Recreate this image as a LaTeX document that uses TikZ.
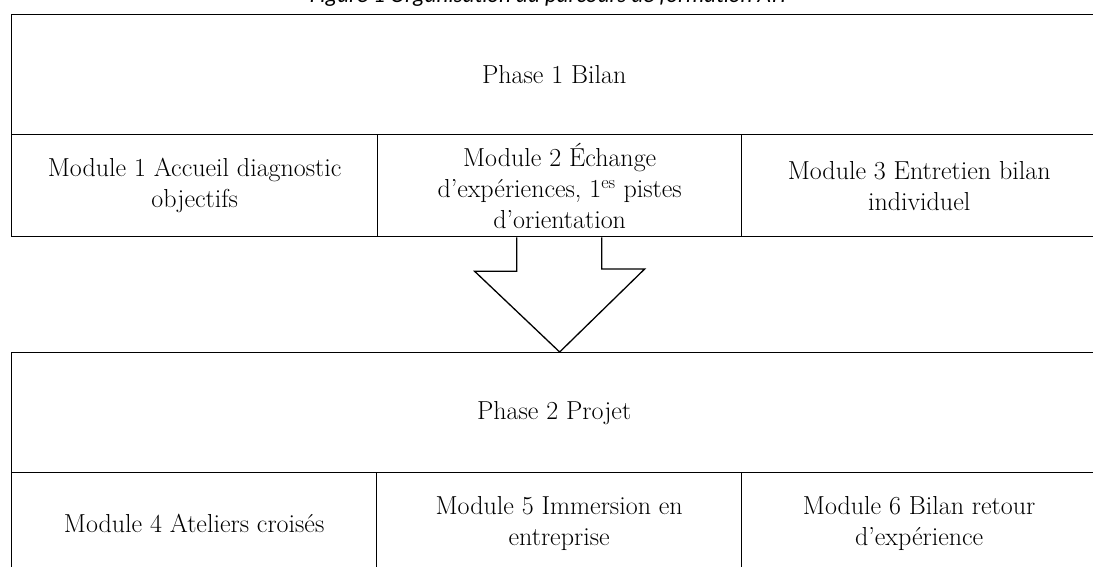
\documentclass[tikz,border=0pt]{standalone}
\usepackage{fontspec}
\setmainfont{Latin Modern Roman}[Ligatures=Common]
\newfontfamily\titlefont{Carlito}
\tikzset{
  cell/.style={draw, line width=1.3pt, rectangle, inner sep=0pt, align=center,
    font=\fontsize{26}{31}\selectfont},
  blockarrow/.style={draw, line width=1.3pt, line join=miter, fill=white},
}
\begin{document}
\begin{tikzpicture}[x=1pt,y=-1pt]
\clip (0,0) rectangle (1093,566);
\useasboundingbox (0,0) rectangle (1093,566);
% title (cropped at the top)
\node[anchor=base, inner sep=0pt, font=\titlefont\itshape\fontsize{23}{27}\selectfont] (title) at (548,2)
  {Figure 1 Organisation du parcours de formation ATI};
% phase 1
\node[cell, minimum width=1085pt, minimum height=120pt, anchor=north west] (p1) at (11,14) {Phase 1 Bilan};
\node[cell, minimum width=366pt, minimum height=102pt, anchor=north west] (m1) at (11,134)
  {Module 1 Accueil diagnostic\\objectifs};
\node[cell, minimum width=364pt, minimum height=102pt, anchor=north west] (m2) at (377,134)
  {Module 2 Échange\\d'expériences, 1\textsuperscript{es} pistes\\d'orientation};
\node[cell, minimum width=355pt, minimum height=102pt, anchor=north west] (m3) at (741,134)
  {Module 3 Entretien bilan\\individuel};
% phase 2
\node[cell, minimum width=1085pt, minimum height=120pt, anchor=north west] (p2) at (11,352) {Phase 2 Projet};
\node[cell, minimum width=365pt, minimum height=102pt, anchor=north west] (m4) at (11,472)
  {Module 4 Ateliers croisés};
\node[cell, minimum width=365pt, minimum height=102pt, anchor=north west] (m5) at (376,472)
  {Module 5 Immersion en\\entreprise};
\node[cell, minimum width=355pt, minimum height=102pt, anchor=north west] (m6) at (741,472)
  {Module 6 Bilan retour\\d'expérience};
% block arrow from module 2 to phase 2
\draw[blockarrow] ([xshift=-43pt]m2.south) -- ++(0,34) -- ++(-42,0)
  -- (p2.north -| m2.south) -- ++(85,-83) -- ++(-43,0) -- ([xshift=42pt]m2.south);
\end{tikzpicture}
\end{document}
